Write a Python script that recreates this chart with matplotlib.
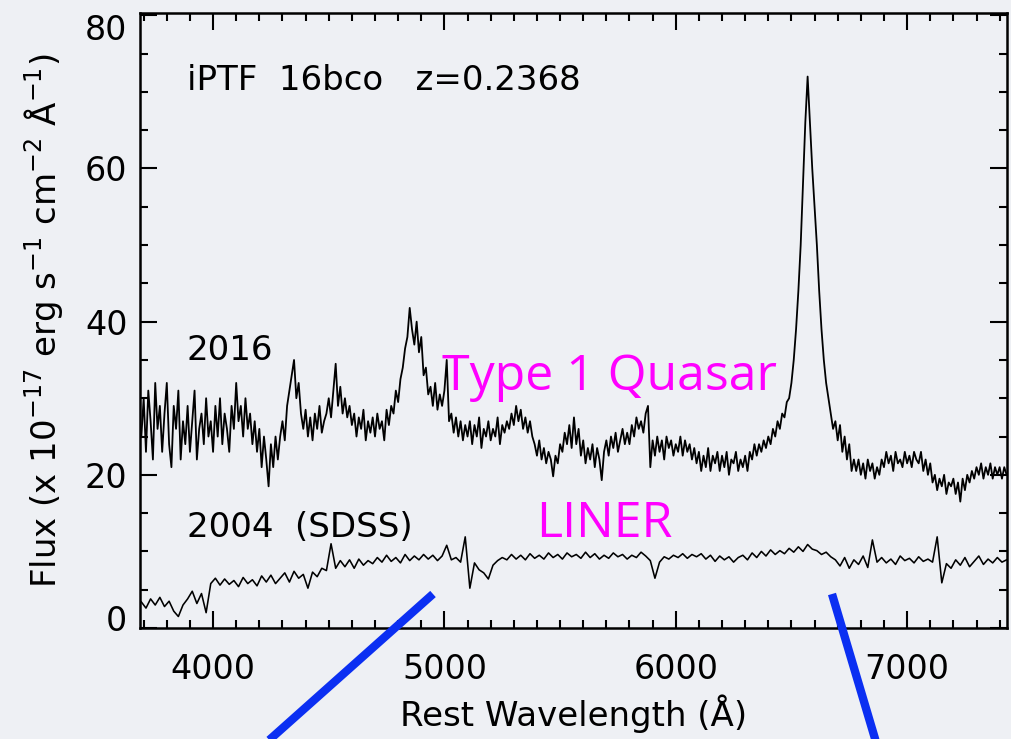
import numpy as np
import matplotlib
matplotlib.use("Agg")
import matplotlib.pyplot as plt
from matplotlib.lines import Line2D
from matplotlib.ticker import MultipleLocator
import matplotlib.transforms as mtransforms

# ---------------------------------------------------------------------------
# Spectra of iPTF 16bco (rest frame, flux in 1e-17 erg/s/cm^2/A)
# ---------------------------------------------------------------------------
wave_2016 = np.arange(3690, 7431, 10)
flux_2016 = [
    25, 30, 23, 31, 27, 22, 32, 26, 29, 23,
    28, 32, 24, 21, 29, 26, 31, 22, 27, 24,
    29, 23, 27, 31, 22, 26, 28, 24, 30, 25,
    27, 23, 29, 25, 30, 24, 28, 26, 23, 29,
    26, 32, 27, 29, 25, 30, 26, 28, 24, 27,
    23, 26, 21, 25, 22, 18.5, 24, 21, 25, 22,
    25, 27, 24.5, 29, 31, 33, 35, 30, 32, 28,
    26, 28.5, 25, 27.5, 24.5, 28, 26, 29, 25.5, 27,
    28, 30, 27.5, 31, 34.5, 29, 31.5, 28, 30, 27.5,
    29, 26.5, 28, 25, 27.5, 26, 28.5, 24.5, 27, 25.5,
    27.5, 25, 28, 26, 27, 24.5, 28.5, 26.5, 29, 28,
    31, 29.5, 32.5, 34, 36.5, 38, 41.8, 39, 37, 40,
    36, 38, 33, 34, 30.5, 31.5, 29, 32, 28.5, 30.5,
    29, 31, 35, 27, 28, 25.5, 27.5, 25, 27, 24.5,
    26.5, 25, 27, 24, 26.5, 25, 27.5, 23.5, 26, 25,
    27, 24.5, 26, 25, 27.5, 24, 26.5, 25.5, 27, 26,
    28, 26.5, 29, 27, 28.5, 26, 27.5, 25.5, 27, 25,
    24, 22.5, 24.5, 22, 23.5, 21.5, 23, 22, 19.8, 22.5,
    21.5, 24, 23, 25.5, 24, 26.5, 23.5, 27.5, 24, 26,
    22.5, 24.5, 21.5, 23.5, 22, 24, 21, 23.5, 22, 19.3,
    23, 24.5, 22.5, 25, 23.5, 25.5, 23, 24.5, 26, 24,
    25.5, 24, 26.5, 25, 27.5, 26, 27, 25.5, 28, 29,
    21, 24.5, 22.5, 25, 23, 24.5, 22, 25, 23.5, 24.5,
    22.5, 24, 23, 25, 22.5, 24.5, 23, 24, 22, 23.5,
    21.5, 23, 20.5, 22.5, 21, 23.5, 20.5, 22.5, 21.5, 23,
    20.5, 22.5, 21, 23, 20, 22, 21.5, 23, 20.5, 22,
    21, 22.5, 20.5, 23, 22, 24, 22.5, 24, 23, 24.5,
    23.5, 25, 24, 26, 25, 27, 26, 28, 27.5, 29.5,
    30, 32, 35, 39, 44, 50, 58, 66, 72, 66,
    60, 55, 50, 44, 39, 35, 32, 30, 28, 26,
    27, 24.5, 26.5, 23, 25, 22, 24, 20.5, 22, 20.5,
    22, 20, 21.5, 19.5, 22, 20.5, 21.5, 19.5, 21, 20,
    22, 21, 23, 21.5, 22.5, 20.5, 23, 21.5, 22, 21,
    23, 21.5, 22.5, 21, 23, 22, 21.5, 23, 20.5, 22,
    20, 21.5, 19, 20, 18, 19.5, 18.5, 20, 17.5, 19,
    18.5, 19.5, 17.5, 19, 16.5, 19.5, 18, 20, 19, 20.5,
    19.5, 21, 20, 21.5, 19.5, 21, 20, 21.5, 19.5, 21,
    20, 21, 19.5, 21, 20,
]

wave_2004 = np.arange(3690, 7431, 20)
flux_2004 = [
    3.4, 2.6, 3.8, 3.0, 4.0, 2.8, 3.5, 2.2, 1.5, 3.0,
    3.8, 4.8, 3.2, 4.5, 2.0, 5.8, 6.5, 5.6, 6.4, 5.7,
    6.2, 5.4, 6.6, 5.8, 6.3, 5.5, 6.8, 6.0, 6.9, 5.8,
    6.5, 7.2, 6.0, 7.4, 6.5, 7.0, 5.2, 7.3, 6.7, 7.8,
    7.5, 11.0, 7.8, 8.8, 8.0, 8.9, 7.8, 9.0, 8.2, 8.8,
    8.4, 9.2, 8.6, 9.5, 8.7, 9.2, 8.5, 9.6, 8.8, 9.4,
    8.9, 9.6, 9.0, 9.5, 8.8, 9.4, 10.8, 8.9, 9.2, 8.6,
    11.9, 5.2, 8.5, 7.6, 7.2, 6.4, 8.2, 8.8, 9.2, 8.9,
    9.6, 9.0, 9.5, 8.9, 9.7, 9.1, 9.5, 9.0, 9.8, 9.2,
    9.6, 9.0, 9.8, 9.3, 9.6, 9.1, 9.9, 9.2, 9.7, 9.0,
    9.5, 9.1, 9.8, 9.3, 9.6, 9.0, 9.5, 9.2, 9.9, 9.4,
    8.8, 6.5, 8.6, 9.3, 9.0, 9.5, 9.2, 9.7, 9.1, 9.6,
    9.3, 9.7, 9.0, 9.5, 8.7, 9.4, 8.9, 9.3, 8.6, 9.2,
    9.5, 8.9, 9.8, 9.2, 10.0, 9.4, 10.2, 9.6, 10.1, 9.7,
    10.4, 9.9, 10.6, 10.0, 10.9, 10.3, 10.1, 9.6, 9.9, 9.3,
    8.9, 8.1, 9.2, 7.8, 8.9, 8.3, 9.4, 7.9, 11.5, 8.6,
    9.2, 8.5, 9.0, 8.3, 9.4, 8.8, 9.1, 8.5, 9.3, 8.7,
    9.0, 8.6, 11.9, 5.9, 8.4, 7.8, 8.9, 8.2, 9.2, 8.0,
    8.7, 9.4, 8.3, 9.0, 8.5, 9.2, 8.6, 8.9,
]

x_major_ticks = [4000, 5000, 6000, 7000]
y_major_ticks = [0, 20, 40, 60, 80]

BG = "#eef0f4"
LABEL_FONT = "DejaVu Sans"
NOTE_FONT = "Open Sans"
TICK_SIZE = 24
TEXT_SIZE = 24.5

fig = plt.figure(figsize=(10.12, 7.39), dpi=100, facecolor=BG)
ax = fig.add_axes([0.1383, 0.1502, 0.8568, 0.8322], facecolor=BG)

ax.plot(wave_2016, flux_2016, color="black", lw=1.3)
ax.plot(wave_2004, flux_2004, color="black", lw=1.15)

ax.set_xlim(3684, 7432)
ax.set_ylim(0, 80.3)

ax.set_xticks(x_major_ticks)
ax.set_yticks(y_major_ticks)
ax.xaxis.set_minor_locator(MultipleLocator(100))
ax.yaxis.set_minor_locator(MultipleLocator(5))

for s in ax.spines.values():
    s.set_linewidth(1.8)

ax.tick_params(which="both", direction="in", top=True, right=True,
               width=1.5, labelsize=TICK_SIZE, colors="black")
ax.tick_params(which="major", length=12)
ax.tick_params(which="minor", length=6)
ax.tick_params(axis="x", pad=18)
ax.tick_params(axis="y", pad=9)
for lab in ax.get_xticklabels() + ax.get_yticklabels():
    lab.set_fontfamily(LABEL_FONT)

# nudge the end labels of the flux axis inward
fig.canvas.draw()
ylabs = ax.get_yticklabels()
ylabs[0].set_transform(ylabs[0].get_transform() +
                       mtransforms.ScaledTranslation(0, 10 / 100, fig.dpi_scale_trans))
ylabs[-1].set_transform(ylabs[-1].get_transform() +
                        mtransforms.ScaledTranslation(0, -12 / 100, fig.dpi_scale_trans))

ax.set_xlabel("Rest Wavelength (Å)", fontsize=TEXT_SIZE, family=LABEL_FONT, labelpad=6)
ax.set_ylabel(r"Flux (x 10$^{-17}$ erg s$^{-1}$ cm$^{-2}$ Å$^{-1}$)",
              fontsize=TEXT_SIZE, family=LABEL_FONT, labelpad=14)

ax.text(0.054, 0.875, "iPTF  16bco   z=0.2368", transform=ax.transAxes,
        fontsize=TEXT_SIZE, family=LABEL_FONT, va="baseline", ha="left")
ax.text(0.054, 0.436, "2016", transform=ax.transAxes,
        fontsize=TEXT_SIZE, family=LABEL_FONT, va="baseline", ha="left")
ax.text(0.054, 0.148, "2004  (SDSS)", transform=ax.transAxes,
        fontsize=TEXT_SIZE, family=LABEL_FONT, va="baseline", ha="left")
ax.text(0.348, 0.387, "Type 1 Quasar", transform=ax.transAxes,
        fontsize=36, family=NOTE_FONT, color="#ff00ff", va="baseline", ha="left")
ax.text(0.457, 0.148, "LINER", transform=ax.transAxes,
        fontsize=36, family=NOTE_FONT, color="#ff00ff", va="baseline", ha="left")

# zoom-out connector strokes below the panel
W, H = 1012, 739
for (x0, y0), (x1, y1) in [((433, 594), (267, 742)), ((832, 594), (876, 742))]:
    fig.add_artist(Line2D([x0 / W, x1 / W], [1 - y0 / H, 1 - y1 / H],
                          transform=fig.transFigure, color="#0b2ff2",
                          lw=6, solid_capstyle="butt", zorder=5))

fig.savefig("out.png", dpi=100, facecolor=BG)
